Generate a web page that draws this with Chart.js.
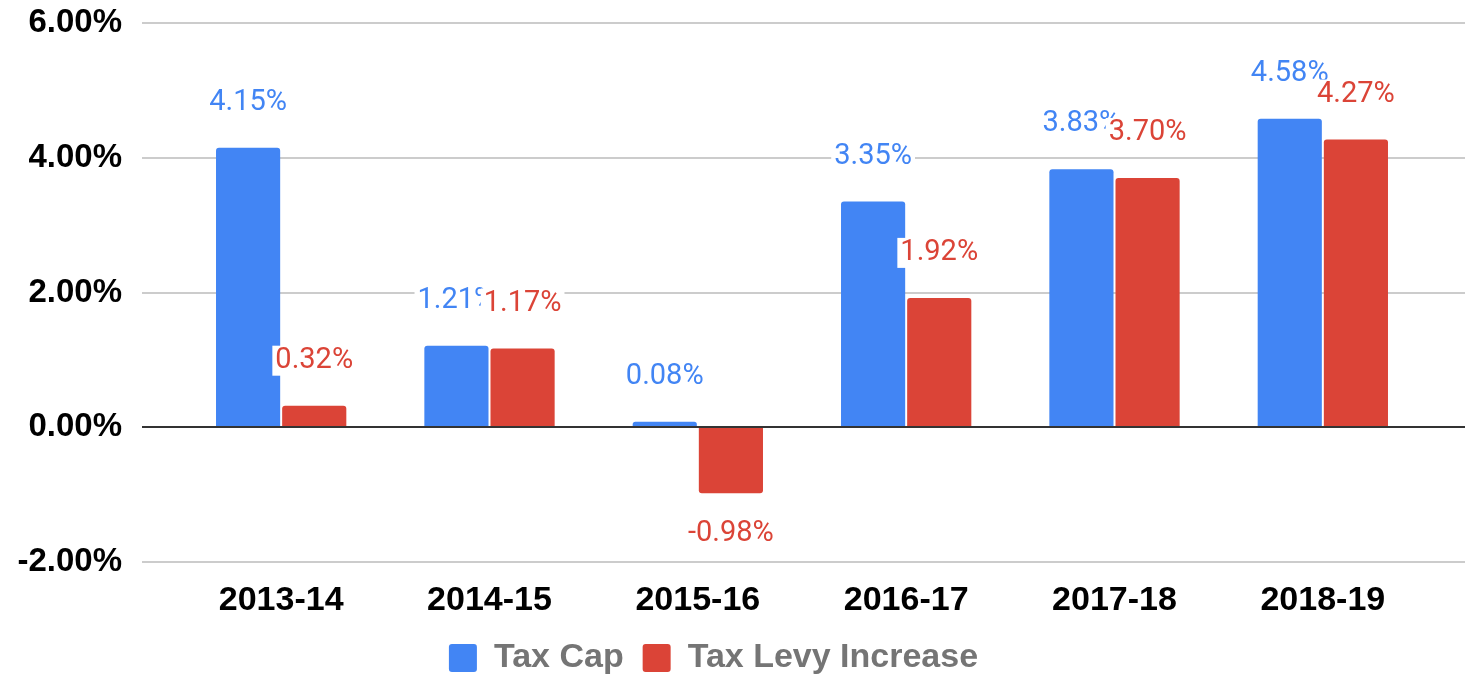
<!DOCTYPE html>
<html>
<head>
<meta charset="utf-8">
<script src="https://cdn.jsdelivr.net/npm/chart.js@4.4.1/dist/chart.umd.min.js"></script>
<style>
    html, body { margin: 0; padding: 0; background: #fff; }
    #wrap { width: 1469px; height: 674px; }
</style>
</head>
<body>
<div id="wrap"><canvas id="chart" width="1469" height="674"></canvas></div>
<script>
// data
const years = [ '2013-14', '2014-15', '2015-16', '2016-17', '2017-18', '2018-19' ];
const taxCap = [ 4.15, 1.21, 0.08, 3.35, 3.83, 4.58 ];
const levyIncrease = [ 0.32, 1.17, -0.98, 1.92, 3.70, 4.27 ];
const yMin = -2;
const yMax = 6;
const yStep = 2;

const BLUE = '#4285F4';
const RED = '#DB4437';
const AXIS_FONT = 'Liberation Sans';

// grey gridlines, wider than the plot area like the original
const gridLines = {
    id : 'gridLines',
    beforeDatasetsDraw( chart )
    {
        const ctx = chart.ctx;
        const y = chart.scales.y;
        const area = chart.chartArea;
        ctx.save();
        ctx.strokeStyle = '#cccccc';
        ctx.lineWidth = 2;
        y.ticks.forEach( t => {
            if ( t.value == 0 )
                return;
            const py = Math.round( y.getPixelForValue( t.value ));
            ctx.beginPath();
            ctx.moveTo( area.left - 35, py );
            ctx.lineTo( area.right + 38, py );
            ctx.stroke();
        });
        ctx.restore();
    }
};

// dark baseline plus value labels with a white halo box
const barLabels = {
    id : 'barLabels',
    afterDatasetsDraw( chart )
    {
        const ctx = chart.ctx;
        const y = chart.scales.y;
        const area = chart.chartArea;
        ctx.save();
        const py0 = Math.round( y.getPixelForValue( 0 ));
        ctx.strokeStyle = '#333333';
        ctx.lineWidth = 2;
        ctx.beginPath();
        ctx.moveTo( area.left - 35, py0 );
        ctx.lineTo( area.right + 38, py0 );
        ctx.stroke();

        ctx.font = '29px Roboto';
        ctx.textAlign = 'center';
        ctx.textBaseline = 'middle';
        chart.data.datasets.forEach(( ds, i ) => {
            const meta = chart.getDatasetMeta( i );
            meta.data.forEach(( bar, j ) => {
                const v = ds.data[ j ];
                const text = v.toFixed( 2 ) + '%';
                const ty = v >= 0 ? bar.y - 45 : bar.y + 40;
                const w = ctx.measureText( text ).width;
                ctx.fillStyle = '#ffffff';
                ctx.fillRect( bar.x - w / 2 - 3, ty - 15, w + 6, 30 );
                ctx.fillStyle = ds.backgroundColor;
                ctx.fillText( text, bar.x, ty );
            });
        });
        ctx.restore();
    }
};

const chart = new Chart( document.getElementById( 'chart' ), {
    type : 'bar',
    data : {
        labels : years,
        datasets : [
            {
                label : 'Tax Cap',
                data : taxCap,
                backgroundColor : BLUE,
                borderRadius : 3,
                borderSkipped : 'start',
            },
            {
                label : 'Tax Levy Increase',
                data : levyIncrease,
                backgroundColor : RED,
                borderRadius : 3,
                borderSkipped : 'start',
            },
        ]
    },
    options : {
        responsive : false,
        animation : false,
        devicePixelRatio : 1,
        categoryPercentage : 0.635,
        barPercentage : 0.97,
        layout : { padding : { left : 0, right : 42, top : 23, bottom : -11 }},
        plugins : {
            tooltip : { enabled : false },
            legend : {
                position : 'bottom',
                labels : {
                    boxWidth : 28,
                    boxHeight : 28,
                    padding : 19,
                    useBorderRadius : true,
                    borderRadius : 3,
                    color : '#757575',
                    font : { family : AXIS_FONT, size : 34, weight : 'bold' },
                }
            }
        },
        scales : {
            x : {
                grid : { display : false },
                border : { display : false },
                ticks : {
                    color : '#000000',
                    padding : 10,
                    font : { family : AXIS_FONT, size : 34, weight : 'bold' },
                },
                afterFit( s ) { s.height = 60; },
            },
            y : {
                min : yMin,
                max : yMax,
                grid : { display : false, drawTicks : true, tickLength : 52 },
                border : { display : false },
                ticks : {
                    stepSize : yStep,
                    padding : 3,
                    color : '#000000',
                    font : { family : AXIS_FONT, size : 33, weight : 'bold' },
                    callback : v => v.toFixed( 2 ) + '%',
                },
                afterFit( s ) { s.width = 177; },
            }
        }
    },
    plugins : [ gridLines, barLabels ]
});
</script>
</body>
</html>
